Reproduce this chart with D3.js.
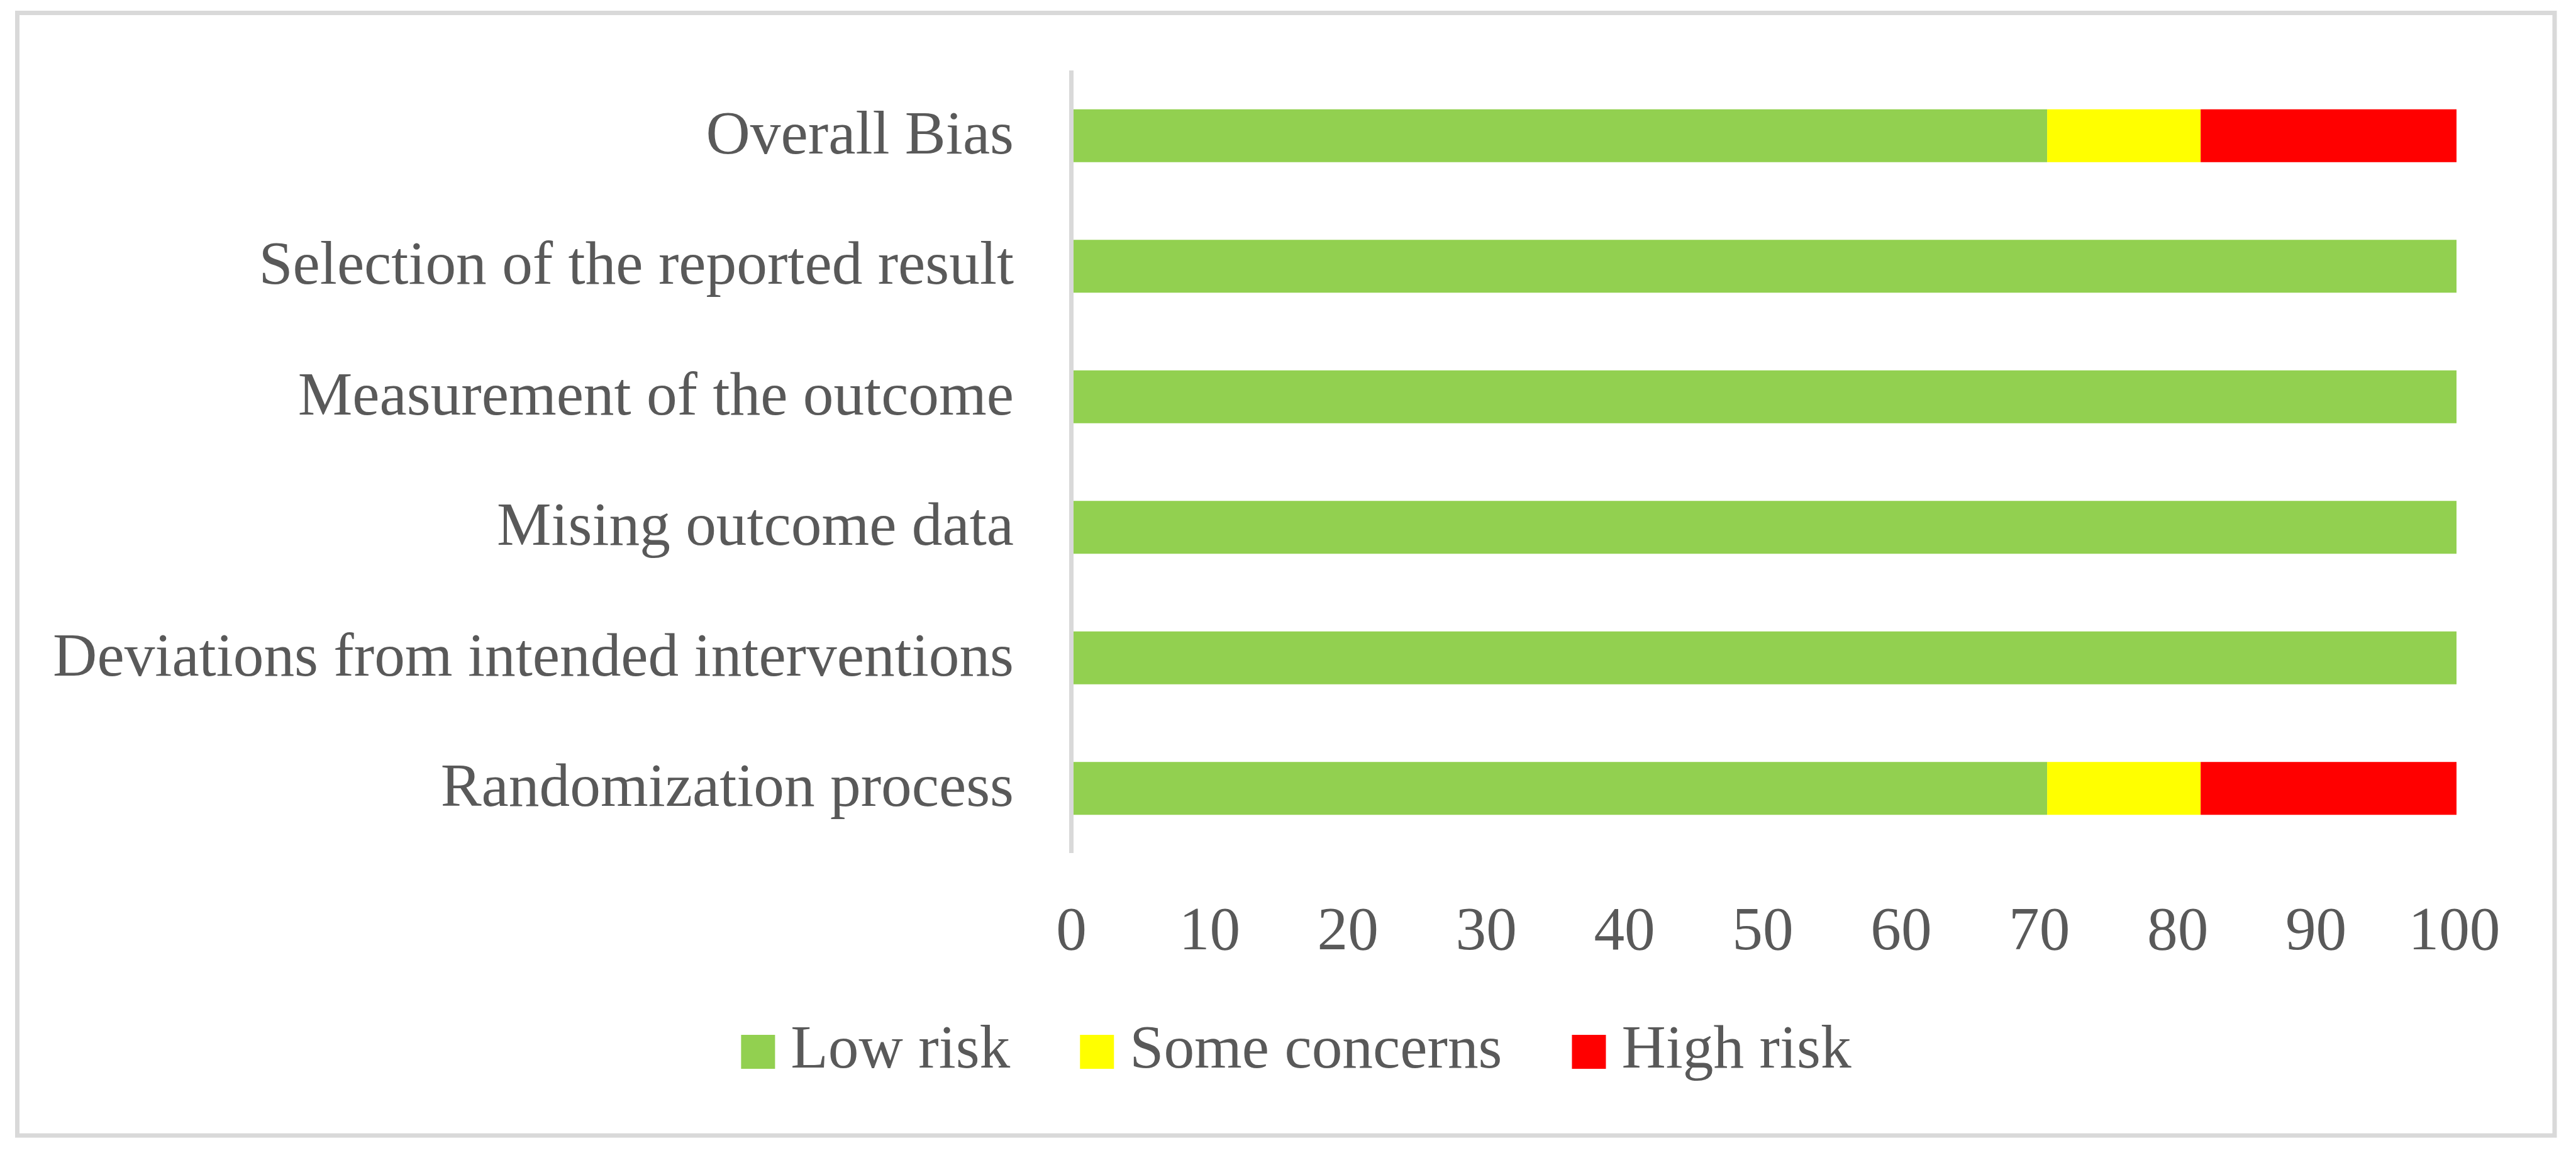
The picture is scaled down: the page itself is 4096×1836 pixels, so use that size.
<!DOCTYPE html>
<html>
<head>
<meta charset="utf-8">
<script src="https://cdn.jsdelivr.net/npm/d3@7"></script>
<style>
  html, body { margin: 0; padding: 0; background: #ffffff; }
  svg { display: block; }
</style>
</head>
<body>
<svg id="chart" width="4096" height="1836"></svg>
<script>
// ---- data ----
const categories = [
  "Overall Bias",
  "Selection of the reported result",
  "Measurement of the outcome",
  "Mising outcome data",
  "Deviations from intended interventions",
  "Randomization process"
];
const seriesNames = ["Low risk", "Some concerns", "High risk"];
const lowRisk      = [70.4, 100, 100, 100, 100, 70.4];
const someConcerns = [11.1, 0, 0, 0, 0, 11.1];
const highRisk     = [18.5, 0, 0, 0, 0, 18.5];
const xTicks = [0, 10, 20, 30, 40, 50, 60, 70, 80, 90, 100];

// ---- styles ----
const colors = ["#92d050", "#ffff00", "#ff0000"];
const textColor = "#595959";
const lineColor = "#d9d9d9";
const fontFamily = "'Palatino Linotype','Book Antiqua',Palatino,'URW Palladio L','P052','Liberation Serif','DejaVu Serif',serif";

const svg = d3.select("#chart");

// frame
svg.append("rect")
  .attr("x", 27.5).attr("y", 20.5)
  .attr("width", 4062 - 27.5).attr("height", 1805 - 20.5)
  .attr("fill", "#ffffff")
  .attr("stroke", lineColor).attr("stroke-width", 7);

// fit font size so the longest label matches reference width
const probe = svg.append("text").attr("font-family", fontFamily).attr("font-size", 100)
  .text("Deviations from intended interventions");
const probeW = probe.node().getComputedTextLength();
probe.remove();
const fontSize = 100 * 1528 / probeW;

// scales
const x = d3.scaleLinear().domain([0, 100]).range([1707, 3906]);
const y = d3.scaleBand().domain(categories).range([112, 1357])
  .paddingInner(0.595).paddingOuter(0.2976);

// stacked data
const table = categories.map((c, i) => ({
  category: c,
  "Low risk": lowRisk[i],
  "Some concerns": someConcerns[i],
  "High risk": highRisk[i]
}));
const stack = d3.stack().keys(seriesNames);
const stacked = stack(table);

svg.append("g").selectAll("g")
  .data(stacked)
  .join("g")
  .attr("fill", (d, i) => colors[i])
  .selectAll("rect")
  .data(d => d)
  .join("rect")
  .attr("x", d => x(d[0]))
  .attr("y", d => y(d.data.category))
  .attr("width", d => Math.max(0, x(d[1]) - x(d[0])))
  .attr("height", y.bandwidth());

// vertical axis line
svg.append("line")
  .attr("x1", 1703.5).attr("x2", 1703.5)
  .attr("y1", y.range()[0]).attr("y2", y.range()[1] - 1)
  .attr("stroke", lineColor).attr("stroke-width", 7);

// y axis labels
const yAxis = d3.axisLeft(y).tickSize(0).tickPadding(0);
const gy = svg.append("g").attr("transform", "translate(1612,0)").call(yAxis);
gy.select(".domain").remove();
gy.selectAll("text")
  .attr("x", 0).attr("dy", null).attr("y", 28)
  .attr("fill", textColor)
  .attr("font-family", fontFamily)
  .attr("font-size", fontSize)
  .attr("text-anchor", "end");

// x axis labels
const xAxis = d3.axisBottom(x).tickValues(xTicks).tickSize(0).tickFormat(d3.format("d"));
const gx = svg.append("g").attr("transform", "translate(-4,0)").call(xAxis);
gx.select(".domain").remove();
gx.selectAll("text")
  .attr("y", 1509).attr("dy", null)
  .attr("fill", textColor)
  .attr("font-family", fontFamily)
  .attr("font-size", fontSize)
  .attr("text-anchor", "middle");

// legend
const legend = svg.append("g");
const sq = 54, gapSqText = 25, gapItems = 111, legendBaseline = 1697;
const items = seriesNames.map((name, i) => {
  const g = legend.append("g");
  g.append("rect").attr("x", 0).attr("y", 1645).attr("width", sq).attr("height", sq)
    .attr("fill", colors[i]);
  const t = g.append("text").attr("x", sq + gapSqText).attr("y", legendBaseline)
    .attr("fill", textColor).attr("font-family", fontFamily).attr("font-size", fontSize)
    .text(name);
  const w = sq + gapSqText + t.node().getComputedTextLength();
  return { g, w };
});
const totalW = d3.sum(items, d => d.w) + gapItems * (items.length - 1);
let cx = 2061 - totalW / 2;
items.forEach(it => {
  it.g.attr("transform", `translate(${cx},0)`);
  cx += it.w + gapItems;
});
</script>
</body>
</html>
